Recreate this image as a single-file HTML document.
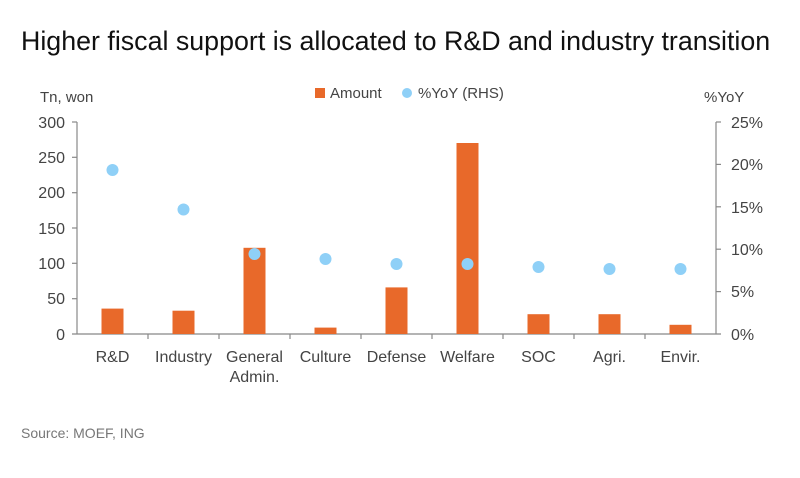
<!DOCTYPE html>
<html><head><meta charset="utf-8"><style>
body{margin:0;background:#fff;width:800px;height:473px;overflow:hidden;font-family:"Liberation Sans",sans-serif}
</style></head><body>
<svg width="800" height="473" xmlns="http://www.w3.org/2000/svg" font-family="Liberation Sans, sans-serif">
<text x="21" y="50" font-size="26.8" fill="#111">Higher fiscal support is allocated to R&amp;D and industry transition</text>
<text x="40" y="102" font-size="15" fill="#444">Tn, won</text>
<text x="704" y="102" font-size="15" fill="#444">%YoY</text>
<rect x="315" y="88" width="10" height="10" fill="#e8692a"/>
<text x="330" y="98" font-size="15" fill="#444">Amount</text>
<circle cx="407" cy="93" r="5" fill="#8fd0f7"/>
<text x="418" y="98" font-size="15" fill="#444">%YoY (RHS)</text>
<g stroke="#888" stroke-width="1.2">
<line x1="77" y1="122" x2="77" y2="334"/>
<line x1="716" y1="122" x2="716" y2="334"/>
<line x1="72" y1="334" x2="721" y2="334"/>
<line x1="72" y1="122" x2="77" y2="122"/><line x1="72" y1="157.3" x2="77" y2="157.3"/><line x1="72" y1="192.7" x2="77" y2="192.7"/><line x1="72" y1="228" x2="77" y2="228"/><line x1="72" y1="263.3" x2="77" y2="263.3"/><line x1="72" y1="298.7" x2="77" y2="298.7"/>
<line x1="716" y1="122" x2="721" y2="122"/><line x1="716" y1="164.4" x2="721" y2="164.4"/><line x1="716" y1="206.8" x2="721" y2="206.8"/><line x1="716" y1="249.2" x2="721" y2="249.2"/><line x1="716" y1="291.6" x2="721" y2="291.6"/>
<line x1="148" y1="334" x2="148" y2="339"/><line x1="219" y1="334" x2="219" y2="339"/><line x1="290" y1="334" x2="290" y2="339"/><line x1="361" y1="334" x2="361" y2="339"/><line x1="432" y1="334" x2="432" y2="339"/><line x1="503" y1="334" x2="503" y2="339"/><line x1="574" y1="334" x2="574" y2="339"/><line x1="645" y1="334" x2="645" y2="339"/>
</g>
<g font-size="16" fill="#444" text-anchor="end">
<text x="65" y="128">300</text><text x="65" y="163">250</text><text x="65" y="198">200</text><text x="65" y="234">150</text><text x="65" y="269">100</text><text x="65" y="304">50</text><text x="65" y="340">0</text>
</g>
<g font-size="16" fill="#444">
<text x="731" y="128">25%</text><text x="731" y="170">20%</text><text x="731" y="213">15%</text><text x="731" y="255">10%</text><text x="731" y="297">5%</text><text x="731" y="340">0%</text>
</g>
<g fill="#e8692a">
<rect x="101.5" y="308.6" width="22" height="25.4"/>
<rect x="172.5" y="310.7" width="22" height="23.3"/>
<rect x="243.5" y="247.8" width="22" height="86.2"/>
<rect x="314.5" y="327.6" width="22" height="6.4"/>
<rect x="385.5" y="287.4" width="22" height="46.6"/>
<rect x="456.5" y="143" width="22" height="191"/>
<rect x="527.5" y="314.2" width="22" height="19.8"/>
<rect x="598.5" y="314.2" width="22" height="19.8"/>
<rect x="669.5" y="324.8" width="22" height="9.2"/>
</g>
<g fill="#8fd0f7">
<circle cx="112.5" cy="170" r="6"/><circle cx="183.5" cy="209.5" r="6"/><circle cx="254.5" cy="254" r="6"/><circle cx="325.5" cy="259" r="6"/><circle cx="396.5" cy="264" r="6"/><circle cx="467.5" cy="264" r="6"/><circle cx="538.5" cy="267" r="6"/><circle cx="609.5" cy="269" r="6"/><circle cx="680.5" cy="269" r="6"/>
</g>
<g font-size="16" fill="#444" text-anchor="middle">
<text x="112.5" y="362">R&amp;D</text><text x="183.5" y="362">Industry</text><text x="254.5" y="362">General</text><text x="254.5" y="382">Admin.</text><text x="325.5" y="362">Culture</text><text x="396.5" y="362">Defense</text><text x="467.5" y="362">Welfare</text><text x="538.5" y="362">SOC</text><text x="609.5" y="362">Agri.</text><text x="680.5" y="362">Envir.</text>
</g>
<text x="21" y="438" font-size="14" fill="#777">Source: MOEF, ING</text>
</svg>
</body></html>
